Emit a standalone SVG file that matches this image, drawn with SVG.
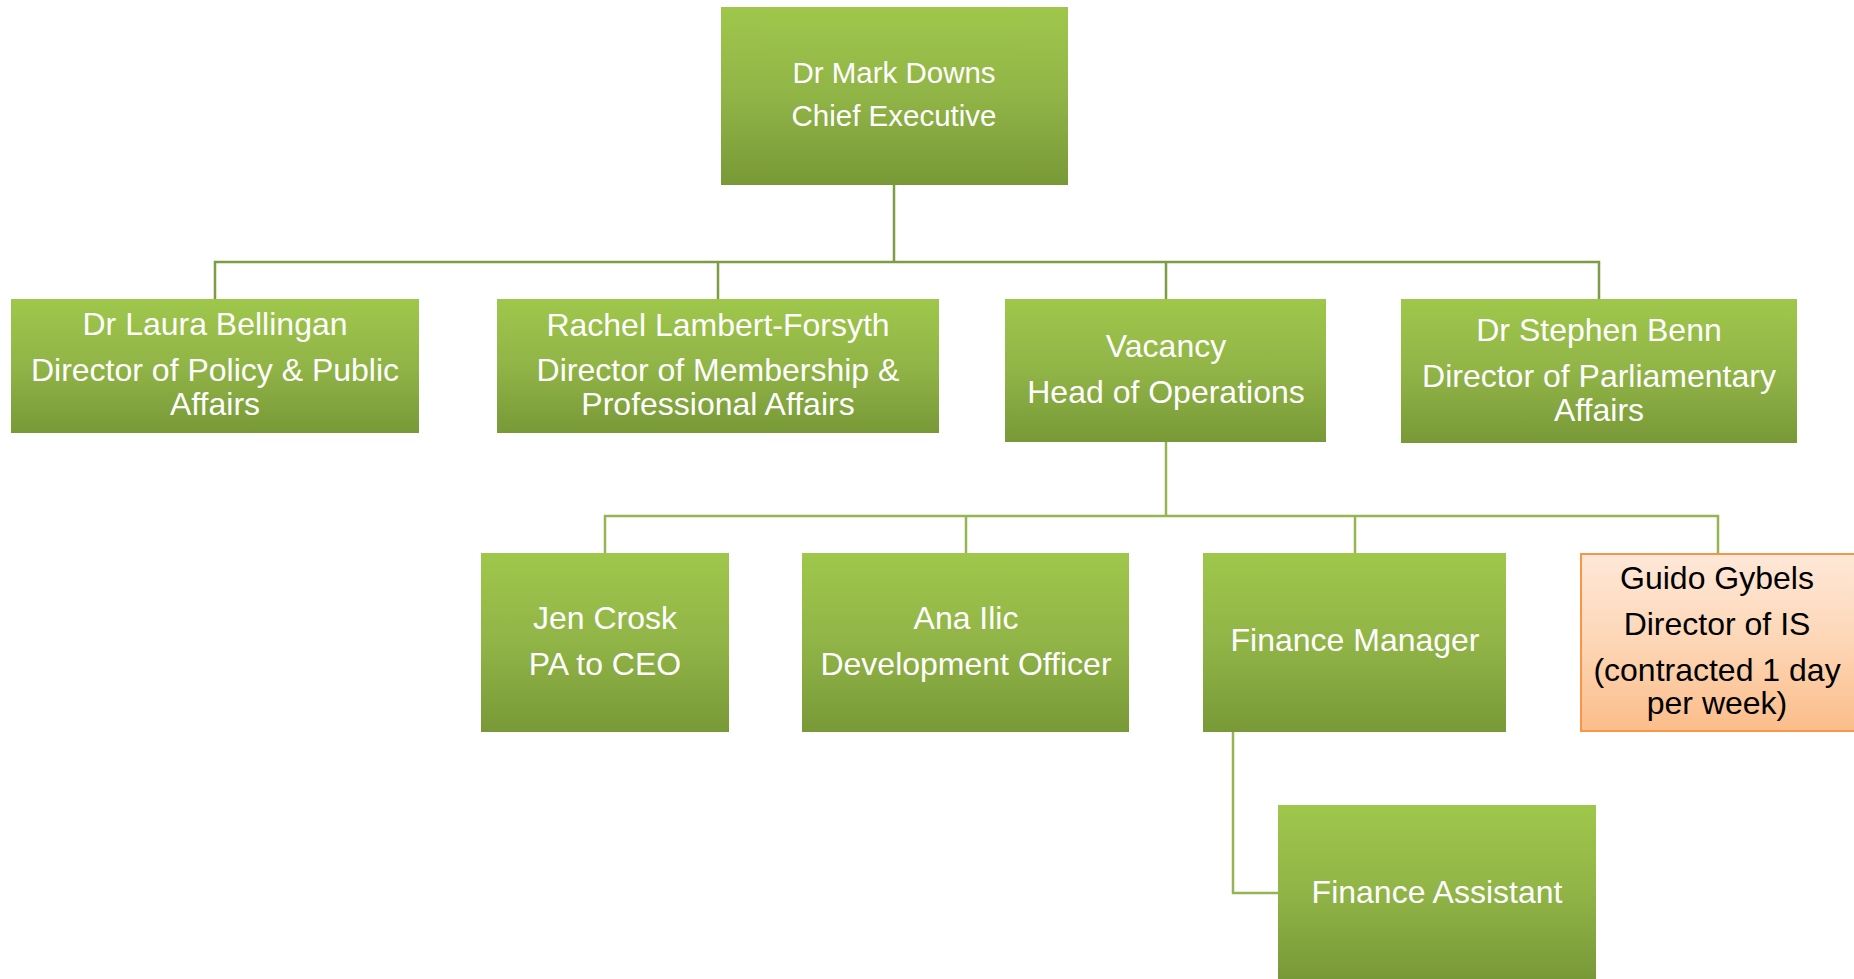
<svg xmlns="http://www.w3.org/2000/svg" width="1854" height="979" viewBox="0 0 1854 979">
<defs>
<linearGradient id="g" x1="0" y1="0" x2="0" y2="1">
<stop offset="0" stop-color="#9fc74b"/>
<stop offset="0.5" stop-color="#91b447"/>
<stop offset="1" stop-color="#789937"/>
</linearGradient>
<linearGradient id="o" x1="0" y1="0" x2="0" y2="1">
<stop offset="0" stop-color="#fee8d8"/>
<stop offset="0.5" stop-color="#fdd6b5"/>
<stop offset="1" stop-color="#fbbd8a"/>
</linearGradient>
</defs>
<style>
.box{fill:url(#g)}
.obox{fill:url(#o);stroke:#f79646;stroke-width:2}
text{font-family:"Liberation Sans",Arial,sans-serif;font-size:32px;text-anchor:middle;fill:#ffffff}
.dk{fill:#000000}
.c1{fill:none;stroke:#7e9b45;stroke-width:2.5}
.c2{fill:none;stroke:#93b554;stroke-width:2.5}
</style>
<g id="connectors">
<path class="c1" d="M894 185V262M215 299V262H1599V299M718 262V299M1166 262V299"/>
<path class="c2" d="M1166 442V516M605 553V516H1718V553M966 516V553M1355 516V553"/>
<path class="c2" d="M1233 732V893H1278"/>
</g>
<g id="ceo"><rect class="box" x="721" y="7" width="347" height="178"/>
<text x="894" y="83" style="font-size:29.5px">Dr Mark Downs</text>
<text x="894" y="126" style="font-size:29.5px">Chief Executive</text></g>
<g id="laura"><rect class="box" x="11" y="299" width="408" height="134"/>
<text x="215" y="335">Dr Laura Bellingan</text>
<text x="215" y="381">Director of Policy &amp; Public</text>
<text x="215" y="415">Affairs</text></g>
<g id="rachel"><rect class="box" x="497" y="299" width="442" height="134"/>
<text x="718" y="336">Rachel Lambert-Forsyth</text>
<text x="718" y="381">Director of Membership &amp;</text>
<text x="718" y="415">Professional Affairs</text></g>
<g id="vacancy"><rect class="box" x="1005" y="299" width="321" height="143"/>
<text x="1166" y="357">Vacancy</text>
<text x="1166" y="403">Head of Operations</text></g>
<g id="stephen"><rect class="box" x="1401" y="299" width="396" height="144"/>
<text x="1599" y="341">Dr Stephen Benn</text>
<text x="1599" y="387">Director of Parliamentary</text>
<text x="1599" y="421">Affairs</text></g>
<g id="jen"><rect class="box" x="481" y="553" width="248" height="179"/>
<text x="605" y="629">Jen Crosk</text>
<text x="605" y="675">PA to CEO</text></g>
<g id="ana"><rect class="box" x="802" y="553" width="327" height="179"/>
<text x="966" y="629">Ana Ilic</text>
<text x="966" y="675">Development Officer</text></g>
<g id="finance-manager"><rect class="box" x="1203" y="553" width="303" height="179"/>
<text x="1355" y="651">Finance Manager</text></g>
<g id="guido"><rect class="obox" x="1581" y="554" width="274" height="177"/>
<text class="dk" x="1717" y="589">Guido Gybels</text>
<text class="dk" x="1717" y="635">Director of IS</text>
<text class="dk" x="1717" y="681">(contracted 1 day</text>
<text class="dk" x="1717" y="714">per week)</text></g>
<g id="finance-assistant"><rect class="box" x="1278" y="805" width="318" height="174"/>
<text x="1437" y="903">Finance Assistant</text></g>
</svg>
